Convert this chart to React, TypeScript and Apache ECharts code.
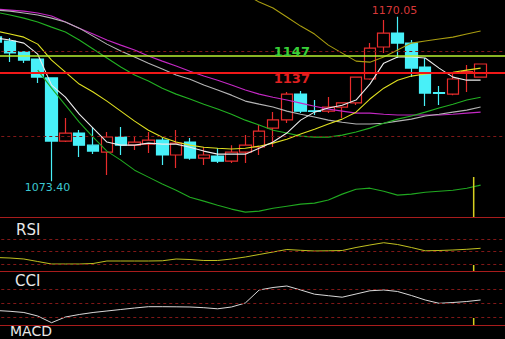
import React, { useEffect, useRef } from 'react';
import * as echarts from 'echarts';

// ---------- data ----------
const categories = Array.from({ length: 38 }, (_, i) => String(i + 1));

// [open, close, low, high]
const candles: number[][] = [
  [1158.2, 1155.2, 1154.5, 1159.0],
  [1155.8, 1148.8, 1143.5, 1157.6],
  [1149.4, 1144.6, 1142.9, 1149.8],
  [1145.2, 1134.6, 1131.1, 1145.5],
  [1134.1, 1097.0, 1073.4, 1134.5],
  [1097.0, 1101.7, 1096.5, 1110.5],
  [1101.7, 1094.6, 1087.6, 1103.5],
  [1094.6, 1091.1, 1089.4, 1105.2],
  [1090.5, 1099.4, 1077.0, 1102.3],
  [1099.4, 1094.6, 1088.8, 1105.2],
  [1094.6, 1096.4, 1091.7, 1099.4],
  [1095.2, 1097.6, 1090.0, 1102.3],
  [1097.6, 1088.8, 1082.9, 1098.8],
  [1088.8, 1095.8, 1081.1, 1103.5],
  [1096.4, 1087.0, 1086.0, 1098.8],
  [1087.0, 1088.8, 1082.9, 1093.5],
  [1088.2, 1085.2, 1084.1, 1092.9],
  [1085.2, 1090.5, 1084.1, 1094.6],
  [1090.5, 1094.6, 1084.1, 1100.5],
  [1093.5, 1102.9, 1088.8, 1106.4],
  [1104.6, 1109.4, 1093.5, 1114.1],
  [1109.4, 1124.6, 1107.6, 1125.8],
  [1124.6, 1114.6, 1113.5, 1126.4],
  [1114.8, 1114.4, 1112.3, 1121.1],
  [1114.6, 1117.0, 1113.5, 1122.9],
  [1117.0, 1119.4, 1110.5, 1119.6],
  [1119.4, 1134.6, 1118.2, 1135.0],
  [1133.5, 1151.7, 1133.0, 1154.6],
  [1152.3, 1160.5, 1148.8, 1168.2],
  [1160.5, 1154.6, 1145.8, 1170.05],
  [1154.6, 1139.9, 1134.6, 1156.4],
  [1140.5, 1125.2, 1117.6, 1145.8],
  [1125.5, 1125.0, 1118.2, 1129.4],
  [1124.6, 1133.5, 1124.0, 1137.6],
  [1137.3, 1137.8, 1125.8, 1141.7],
  [1134.6, 1142.3, 1134.4, 1142.5],
];

const ma5 = [1157.5, 1156.4, 1154.6, 1148.1, 1129.9, 1122.8, 1112.8, 1104.6, 1096.4, 1094.6, 1094.6, 1095.8, 1095.2, 1095.2, 1093.4, 1091.1, 1089.3, 1089.3, 1089.3, 1092.8, 1096.4, 1101.7, 1109.3, 1114.0, 1116.4, 1118.1, 1121.1, 1130.5, 1142.8, 1146.4, 1146.4, 1145.8, 1139.9, 1134.6, 1132.8, 1132.8];
const ma10 = [1161.7, 1159.9, 1158.1, 1154.0, 1144.6, 1137.5, 1130.5, 1125.8, 1120.5, 1114.6, 1108.7, 1103.4, 1099.3, 1096.4, 1094.6, 1093.4, 1092.8, 1092.3, 1092.8, 1094.0, 1095.8, 1098.1, 1101.1, 1104.0, 1107.0, 1109.9, 1114.0, 1121.7, 1128.1, 1132.8, 1135.2, 1136.4, 1137.0, 1137.5, 1138.7, 1139.9];
const ma20 = [1172.8, 1171.1, 1169.3, 1167.0, 1164.0, 1161.1, 1156.4, 1151.1, 1145.8, 1140.5, 1135.8, 1132.3, 1128.1, 1124.6, 1121.7, 1118.7, 1115.8, 1112.8, 1109.3, 1106.4, 1103.4, 1101.7, 1099.9, 1099.3, 1099.3, 1100.5, 1102.3, 1104.6, 1107.5, 1109.9, 1111.7, 1114.0, 1116.4, 1118.7, 1121.1, 1122.8];
const ma30 = [1174.0, 1173.4, 1172.3, 1171.1, 1169.3, 1167.0, 1163.4, 1158.7, 1154.0, 1149.9, 1146.4, 1142.8, 1139.3, 1135.8, 1133.4, 1129.9, 1127.0, 1124.0, 1120.5, 1118.7, 1117.0, 1114.6, 1112.8, 1111.1, 1109.3, 1108.1, 1107.0, 1107.0, 1107.5, 1108.7, 1109.9, 1111.7, 1112.8, 1114.0, 1115.2, 1117.0];
const ma60 = [1174.6, 1174.0, 1173.4, 1172.3, 1170.5, 1167.0, 1163.4, 1159.9, 1156.4, 1153.4, 1150.5, 1147.0, 1144.0, 1141.1, 1138.1, 1135.2, 1132.8, 1129.9, 1127.0, 1124.6, 1122.8, 1121.1, 1119.3, 1117.5, 1115.8, 1114.6, 1113.4, 1113.4, 1112.8, 1112.3, 1112.3, 1112.3, 1112.3, 1112.8, 1113.4, 1114.0];
const bandUpper = [null, null, null, null, null, null, null, null, null, null, null, null, null, null, null, null, null, null, 1183.4, 1178.7, 1175.2, 1169.9, 1164.6, 1159.9, 1153.4, 1148.7, 1144.0, 1143.4, 1146.4, 1150.5, 1154.6, 1155.8, 1157.0, 1158.1, 1159.9, 1161.7];
const bandLower = [null, null, null, 1138.7, 1128.1, 1118.1, 1108.1, 1099.3, 1091.1, 1085.8, 1079.9, 1075.8, 1071.7, 1068.1, 1064.0, 1061.7, 1059.3, 1057.0, 1055.2, 1055.8, 1057.5, 1058.7, 1059.9, 1060.5, 1062.3, 1065.8, 1068.7, 1069.3, 1067.5, 1065.2, 1065.8, 1066.9, 1067.5, 1068.1, 1069.3, 1071.1];

const rsi = [35.6, 34.4, 32.0, 26.0, 20.0, 20.0, 20.0, 21.2, 27.2, 27.2, 27.2, 27.2, 27.7, 32.0, 30.8, 28.4, 28.4, 32.0, 36.8, 42.8, 48.8, 54.8, 52.9, 51.2, 51.7, 52.4, 59.6, 65.6, 71.1, 66.8, 59.6, 51.7, 52.4, 53.6, 55.3, 57.7];
const cci = [-53.5, -59.3, -67.8, -92.8, -140.7, -100.0, -82.1, -67.8, -57.1, -46.4, -35.7, -26.4, -26.4, -27.1, -28.5, -33.5, -41.4, -28.5, 0.0, 92.9, 110.7, 121.5, 92.9, 62.9, 52.2, 41.4, 64.3, 87.2, 92.9, 82.2, 53.6, 21.5, -2.1, 3.6, 10.7, 21.5];

const levelLines = [1147, 1137];
const levelLabelIndex = 21;
const priceGridLines = [1100, 1150];
const rsiGridLines = [20, 50, 80];
const cciGridLines = [-100, 0, 100];

const priceRange = [1052.35, 1179.94];
const rsiRange = [3.2, 132.8];
const cciRange = [-157.1, 228.6];

const markerX = 34.5;
const markerMain = [1075.8, 1052.35];
const markerRsi = [17.6, 3.2];
const markerCci = [-107.1, -157.1];

// ---------- styles ----------
const GRID_LEFT = -10.72;
const GRID_WIDTH = 525.92;
const SEP_COLOR = '#a81c1c';
const DASH_COLOR = '#801818';
const UP = '#e82c2c';
const DOWN = '#48f0f8';
const FONT = 'DejaVu Sans';

const dashedLines = (vals: number[]) => ({
  silent: true,
  symbol: ['none', 'none'],
  label: { show: false },
  lineStyle: { color: DASH_COLOR, type: [3, 3], width: 1 },
  data: vals.map((v) => ({ yAxis: v })),
});

export default function App() {
  const ref = useRef<HTMLDivElement>(null);
  useEffect(() => {
    const chart = echarts.init(ref.current!, null, { renderer: 'svg' });

    const grids = [
      { top: 0, height: 217 },
      { top: 217, height: 54 },
      { top: 271, height: 54 },
      { top: 325, height: 30 },
    ].map((g) => ({ ...g, left: GRID_LEFT, width: GRID_WIDTH, containLabel: false, outerBoundsMode: 'none' }));

    const catAxes = [0, 1, 2, 3].map((g) => ({
      type: 'category',
      gridIndex: g,
      data: categories,
      boundaryGap: true,
      axisLine: { show: g < 3, onZero: false, lineStyle: { color: SEP_COLOR, width: 1 } },
      axisTick: { show: false },
      axisLabel: { show: false },
      splitLine: { show: false },
    }));
    const valAxes = [0, 1, 2].map((g) => ({
      type: 'value',
      gridIndex: g,
      min: -0.5,
      max: categories.length - 0.5,
      show: false,
    }));

    const maLine = (data: any[], color: string) => ({
      type: 'line',
      xAxisIndex: 0,
      yAxisIndex: 0,
      data,
      symbol: 'none',
      silent: true,
      z: 3,
      lineStyle: { color, width: 1.1 },
    });

    const marker = (xi: number, yi: number, ys: number[]) => ({
      type: 'line',
      xAxisIndex: xi,
      yAxisIndex: yi,
      data: ys.map((y) => [markerX, y]),
      symbol: 'none',
      silent: true,
      z: 4,
      lineStyle: { color: '#d8d020', width: 1.5 },
    });

    const option: any = {
      animation: false,
      backgroundColor: '#000000',
      textStyle: { fontFamily: FONT },
      grid: grids,
      xAxis: [...catAxes, ...valAxes],
      yAxis: [
        { type: 'value', gridIndex: 0, min: priceRange[0], max: priceRange[1], show: false },
        { type: 'value', gridIndex: 1, min: rsiRange[0], max: rsiRange[1], show: false },
        { type: 'value', gridIndex: 2, min: cciRange[0], max: cciRange[1], show: false },
        { type: 'value', gridIndex: 3, min: 0, max: 1, show: false },
      ],
      series: [
        {
          type: 'candlestick',
          xAxisIndex: 0,
          yAxisIndex: 0,
          data: candles,
          barWidth: 12,
          z: 2,
          itemStyle: { color: '#000000', color0: DOWN, borderColor: UP, borderColor0: DOWN, borderWidth: 1.2 },
          markLine: dashedLines(priceGridLines),
          markPoint: {
            symbol: 'circle',
            symbolSize: 1,
            silent: true,
            itemStyle: { color: 'rgba(0,0,0,0)' },
            data: [
              {
                type: 'max',
                valueDim: 'highest',
                label: { show: true, position: 'top', distance: 0, offset: [-3, 0], color: '#d83838', fontSize: 11, fontFamily: FONT, formatter: (p: any) => Number(p.value).toFixed(2) },
              },
              {
                type: 'min',
                valueDim: 'lowest',
                label: { show: true, position: 'bottom', distance: 0, offset: [-4, 0], color: '#3cc8d0', fontSize: 11, fontFamily: FONT, formatter: (p: any) => Number(p.value).toFixed(2) },
              },
              {
                coord: [levelLabelIndex, levelLines[0]],
                value: levelLines[0],
                label: { show: true, position: 'inside', offset: [5, -5], color: '#38d038', fontSize: 13, fontWeight: 'bold', fontFamily: FONT, formatter: String(levelLines[0]) },
              },
              {
                coord: [levelLabelIndex, levelLines[1]],
                value: levelLines[1],
                label: { show: true, position: 'inside', offset: [5, 5], color: '#e02020', fontSize: 13, fontWeight: 'bold', fontFamily: FONT, formatter: String(levelLines[1]) },
              },
            ],
          },
        },
        {
          type: 'line',
          xAxisIndex: 0,
          yAxisIndex: 0,
          data: [],
          silent: true,
          z: 5,
          markLine: {
            silent: true,
            symbol: ['none', 'none'],
            label: { show: false },
            data: [
              { yAxis: levelLines[0], lineStyle: { color: '#b8f030', type: 'solid', width: 1.5 } },
              { yAxis: levelLines[1], lineStyle: { color: '#f01818', type: 'solid', width: 2 } },
            ],
          },
        },
        maLine(ma60, '#c428c4'),
        maLine(ma30, '#b4b4b4'),
        maLine(ma20, '#22b022'),
        maLine(bandUpper, '#a89c10'),
        maLine(bandLower, '#20a820'),
        maLine(ma10, '#e0e020'),
        maLine(ma5, '#ececec'),
        marker(4, 0, markerMain),
        {
          type: 'line',
          xAxisIndex: 1,
          yAxisIndex: 1,
          data: rsi,
          symbol: 'none',
          silent: true,
          lineStyle: { color: '#c0c020', width: 1 },
          markLine: dashedLines(rsiGridLines),
        },
        marker(5, 1, markerRsi),
        {
          type: 'line',
          xAxisIndex: 2,
          yAxisIndex: 2,
          data: cci,
          symbol: 'none',
          silent: true,
          lineStyle: { color: '#d8d8d8', width: 1 },
          markLine: dashedLines(cciGridLines),
        },
        marker(6, 2, markerCci),
      ],
      graphic: [
        { type: 'text', x: 16, y: 230, style: { text: 'RSI', fill: '#e8e8e8', fontSize: 15, fontFamily: FONT, verticalAlign: 'middle' } },
        { type: 'text', x: 15, y: 281, style: { text: 'CCI', fill: '#e8e8e8', fontSize: 15, fontFamily: FONT, verticalAlign: 'middle' } },
        { type: 'text', x: 10, y: 331, style: { text: 'MACD', fill: '#e8e8e8', fontSize: 14, fontFamily: FONT, verticalAlign: 'middle' } },
      ],
    };

    chart.setOption(option);
    return () => chart.dispose();
  }, []);

  return (
    <div
      ref={ref}
      style={{ position: 'fixed', left: 0, top: 0, width: 505, height: 339, background: '#000000' }}
    />
  );
}
